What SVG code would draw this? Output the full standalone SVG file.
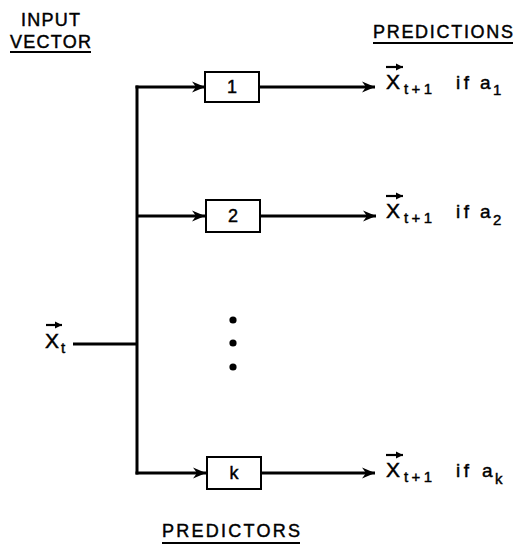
<svg xmlns="http://www.w3.org/2000/svg" width="516" height="546" viewBox="0 0 516 546">
<defs>
<style>
text{font-family:"Liberation Sans",Arial,sans-serif;fill:#000;stroke:#000;stroke-width:0.45}
.h{font-size:18px}
.x{font-size:21px}
.s{font-size:15px}
.f{font-size:19px}
.box{fill:#fff;stroke:#000;stroke-width:2}
.wire{fill:none;stroke:#000;stroke-width:3}
.ul{stroke:#000;stroke-width:2}
.vec{stroke:#000;stroke-width:2.2;fill:none}
.lbl{font-size:18px;text-anchor:middle}
</style>
<marker id="ah" markerUnits="userSpaceOnUse" markerWidth="14" markerHeight="12" refX="13" refY="6" orient="auto">
<path d="M0,0.5 L13,6 L0,11.5 L4,6 Z" fill="#000"/>
</marker>
<marker id="vh" markerUnits="userSpaceOnUse" markerWidth="8" markerHeight="8" refX="7" refY="4" orient="auto">
<path d="M0,0.5 L7,4 L0,7.5 Z" fill="#000"/>
</marker>
</defs>

<g id="header-input">
<text class="h" x="21" y="26" textLength="59" lengthAdjust="spacing">INPUT</text>
<text class="h" x="10" y="48" textLength="81" lengthAdjust="spacing">VECTOR</text>
<line class="ul" x1="10" y1="52" x2="91" y2="52"/>
</g>

<g id="header-predictions">
<text class="h" x="373" y="38" textLength="140" lengthAdjust="spacing">PREDICTIONS</text>
<line class="ul" x1="373" y1="43" x2="513" y2="43"/>
</g>

<g id="header-predictors">
<text class="h" x="162" y="537" textLength="138" lengthAdjust="spacing">PREDICTORS</text>
<line class="ul" x1="162" y1="543" x2="300" y2="543"/>
</g>

<g id="input-xt">
<line class="vec" x1="46" y1="325" x2="62" y2="325" marker-end="url(#vh)"/>
<text class="x" x="45" y="348">X</text>
<text class="s" x="61" y="353">t</text>
</g>

<g id="connectors">
<line class="wire" x1="73" y1="344" x2="137" y2="344"/>
<line class="wire" x1="137" y1="85.5" x2="137" y2="474.5"/>
<line class="wire" x1="135.5" y1="87" x2="205" y2="87" marker-end="url(#ah)"/>
<line class="wire" x1="137" y1="216" x2="205" y2="216" marker-end="url(#ah)"/>
<line class="wire" x1="135.5" y1="473" x2="206" y2="473" marker-end="url(#ah)"/>
<line class="wire" x1="260" y1="87" x2="375" y2="87" marker-end="url(#ah)"/>
<line class="wire" x1="261" y1="216" x2="376" y2="216" marker-end="url(#ah)"/>
<line class="wire" x1="261" y1="473" x2="375" y2="473" marker-end="url(#ah)"/>
</g>

<g id="predictor-1">
<rect class="box" x="205" y="72" width="54" height="30"/>
<text class="lbl" x="232" y="93">1</text>
</g>

<g id="predictor-2">
<rect class="box" x="206" y="200" width="54" height="32"/>
<text class="lbl" x="233" y="222">2</text>
</g>

<g id="predictor-k">
<rect class="box" x="207" y="457" width="54" height="32"/>
<text class="lbl" x="234" y="479">k</text>
</g>

<g id="ellipsis">
<circle cx="233" cy="320" r="3.6"/>
<circle cx="233" cy="343" r="3.6"/>
<circle cx="233" cy="367" r="3.6"/>
</g>

<g id="output-1">
<line class="vec" x1="386" y1="67" x2="403" y2="67" marker-end="url(#vh)"/>
<text class="x" x="386" y="89">X</text>
<text class="s" x="404" y="94" textLength="28" lengthAdjust="spacing">t+1</text>
<text class="f" x="456" y="89" textLength="13" lengthAdjust="spacing">if</text>
<text class="f" x="480" y="89">a</text>
<text class="s" x="493" y="95">1</text>
</g>

<g id="output-2">
<line class="vec" x1="386" y1="196" x2="403" y2="196" marker-end="url(#vh)"/>
<text class="x" x="386" y="218">X</text>
<text class="s" x="404" y="223" textLength="28" lengthAdjust="spacing">t+1</text>
<text class="f" x="456" y="218" textLength="13" lengthAdjust="spacing">if</text>
<text class="f" x="480" y="218">a</text>
<text class="s" x="493" y="225">2</text>
</g>

<g id="output-k">
<line class="vec" x1="386" y1="455" x2="403" y2="455" marker-end="url(#vh)"/>
<text class="x" x="386" y="477">X</text>
<text class="s" x="404" y="482" textLength="28" lengthAdjust="spacing">t+1</text>
<text class="f" x="456" y="477" textLength="13" lengthAdjust="spacing">if</text>
<text class="f" x="482" y="477">a</text>
<text class="s" x="495" y="484">k</text>
</g>
</svg>
